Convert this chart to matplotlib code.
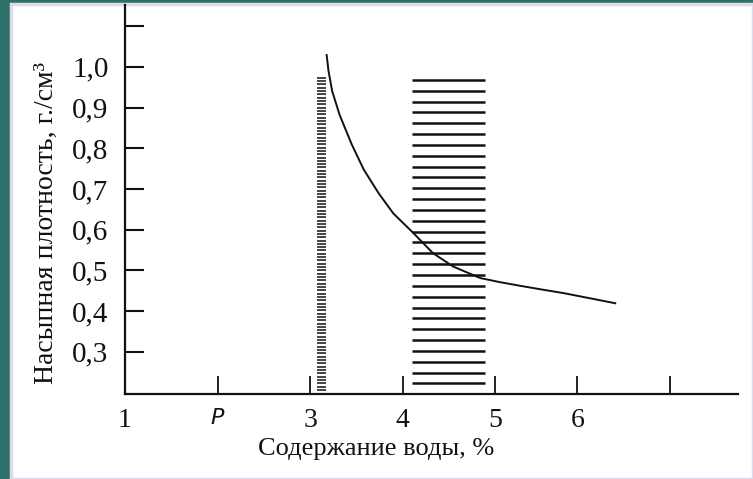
import numpy as np
import matplotlib
matplotlib.use("Agg")
import matplotlib.pyplot as plt
from matplotlib.patches import Rectangle

# ---- data ----
curve_x = [3.18, 3.20, 3.24, 3.32, 3.45, 3.58, 3.74, 3.90, 4.12, 4.33, 4.55, 4.84, 5.05, 5.27, 5.50, 5.74, 6.10, 6.30]
curve_y = [1.029, 0.99, 0.94, 0.882, 0.810, 0.748, 0.690, 0.640, 0.591, 0.542, 0.509, 0.481, 0.471, 0.462, 0.453, 0.444, 0.428, 0.419]

narrow_zone_x = [3.08, 3.17]
narrow_zone_y = [0.206, 0.973]
narrow_zone_lines = 95

wide_zone_x = [4.10, 4.89]
wide_zone_y = [0.222, 0.968]
wide_zone_lines = 29

x_ticks = [1, 2, 3, 4, 5, 5.89, 6.89]
x_tick_labels = ["1", "P", "3", "4", "5", "6", ""]
y_ticks = [0.3, 0.4, 0.5, 0.6, 0.7, 0.8, 0.9, 1.0, 1.1]
y_tick_labels = ["0,3", "0,4", "0,5", "0,6", "0,7", "0,8", "0,9", "1,0", ""]

x_label = "Содержание воды, %"
y_label = "Насыпная плотность, г./см³"

# ---- figure ----
W, H = 753, 479
fig = plt.figure(figsize=(W / 100, H / 100), dpi=100)
fig.patch.set_facecolor("#2f6f6a")
panel = Rectangle((11 / W, 0), 1 - 11 / W, (H - 4) / H, transform=fig.transFigure,
                  facecolor="white", edgecolor="#dcdcec", linewidth=2.5, zorder=-5)
fig.patches.append(panel)

left, right = 125 / W, 738 / W
bottom, top = (H - 394) / H, (H - 5) / H
ax = fig.add_axes([left, bottom, right - left, top - bottom])
ax.set_zorder(3)
ax.set_facecolor("none")
ax.set_xlim(1, 7.627)
ax.set_ylim(0.196, 1.152)

for s in ["top", "right"]:
    ax.spines[s].set_visible(False)
for s in ["left", "bottom"]:
    ax.spines[s].set_linewidth(1.6)
    ax.spines[s].set_color("#111111")

font = "Liberation Serif"
ax.set_xticks(x_ticks)
ax.set_xticklabels(x_tick_labels, fontfamily=font, fontsize=20, color="#111111")
ax.get_xticklabels()[1].set_fontstyle("italic")
ax.get_xticklabels()[1].set_fontfamily("DejaVu Sans")
ax.get_xticklabels()[1].set_fontsize(16)
ax.set_yticks(y_ticks)
ax.set_yticklabels(y_tick_labels, fontfamily=font, fontsize=21, color="#111111")
ax.tick_params(axis="y", direction="in", length=13.5, width=1.5, pad=12, color="#111111")
ax.tick_params(axis="x", direction="in", length=13, width=1.3, pad=10, color="#111111")

# hatched zones
ny = np.linspace(narrow_zone_y[0], narrow_zone_y[1], narrow_zone_lines)
ax.hlines(ny, narrow_zone_x[0], narrow_zone_x[1], colors="#111111", linewidth=1.1)
wy = np.linspace(wide_zone_y[0], wide_zone_y[1], wide_zone_lines)
ax.hlines(wy, wide_zone_x[0], wide_zone_x[1], colors="#111111", linewidth=1.8)

# curve
ax.plot(curve_x, curve_y, color="#111111", linewidth=1.4)

fig.text(376 / W, 1 - 449 / H, x_label, ha="center", va="center",
         fontfamily=font, fontsize=19, color="#111111", zorder=4)
fig.text(46 / W, 1 - 223 / H, y_label, ha="center", va="center", rotation=90,
         fontfamily=font, fontsize=20, color="#111111", zorder=4)

fig.savefig("out.png", dpi=100, facecolor=fig.get_facecolor())
